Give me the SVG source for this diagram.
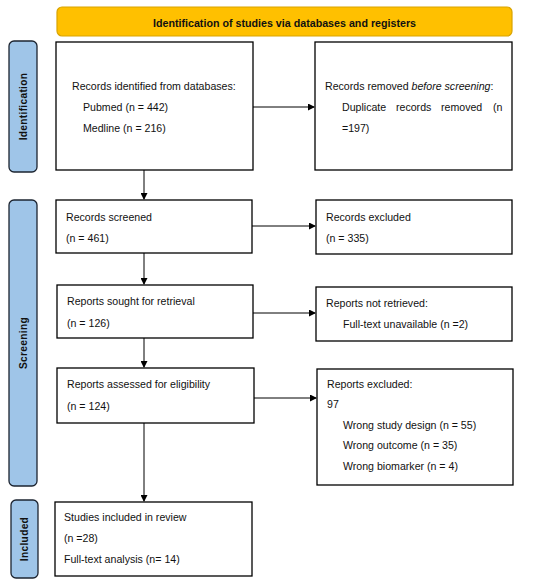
<svg xmlns="http://www.w3.org/2000/svg" width="550" height="585" viewBox="0 0 550 585">
<defs>
<marker id="ah" markerWidth="7" markerHeight="7" refX="6" refY="3.5" orient="auto" markerUnits="userSpaceOnUse">
<path d="M0,0 L7,3.5 L0,7 Z" fill="#000"/>
</marker>
<style>
.box{fill:#fff;stroke:#000;stroke-width:1.3}
.side{fill:#9fc5e8;stroke:#1c2430;stroke-width:1.3}
.hdr{fill:#ffc000;stroke:#d9a300;stroke-width:1.2}
.t{font-family:"Liberation Sans",Arial,sans-serif;font-size:10.6px;fill:#111}
.b{font-family:"Liberation Sans",Arial,sans-serif;font-size:10.2px;font-weight:bold;fill:#111}
.h{font-family:"Liberation Sans",Arial,sans-serif;font-size:10.7px;font-weight:bold;fill:#111}
.c{stroke:#000;stroke-width:1;fill:none;marker-end:url(#ah)}
</style>
</defs>
<rect width="550" height="585" fill="#fff"/>

<g id="header">
<rect class="hdr" x="57" y="7" width="455" height="29" rx="5"/>
<text class="h" x="284.5" y="27" text-anchor="middle">Identification of studies via databases and registers</text>
</g>

<g id="side-identification">
<rect class="side" x="9" y="41" width="28" height="131" rx="5"/>
<text class="b" transform="translate(27,106.5) rotate(-90)" text-anchor="middle" letter-spacing="0.3">Identification</text>
</g>
<g id="side-screening">
<rect class="side" x="9" y="200" width="28" height="286" rx="5"/>
<text class="b" transform="translate(27,343) rotate(-90)" text-anchor="middle" letter-spacing="0.3">Screening</text>
</g>
<g id="side-included">
<rect class="side" x="11" y="500" width="27" height="78" rx="5"/>
<text class="b" transform="translate(28,539) rotate(-90)" text-anchor="middle" letter-spacing="0.3">Included</text>
</g>

<g id="records-identified">
<rect class="box" x="56" y="42" width="197" height="128"/>
<text class="t" x="72" y="90">Records identified from databases:</text>
<text class="t" x="83" y="111">Pubmed (n = 442)</text>
<text class="t" x="83" y="132">Medline (n = 216)</text>
</g>

<g id="records-removed">
<rect class="box" x="315" y="42" width="197" height="128"/>
<text class="t" x="325" y="90">Records removed <tspan font-style="italic">before screening</tspan>:</text>
<text class="t" y="111"><tspan x="342">Duplicate</tspan><tspan x="396">records</tspan><tspan x="441">removed</tspan><tspan x="493">(n</tspan></text>
<text class="t" x="342" y="132">=197)</text>
</g>

<g id="records-screened">
<rect class="box" x="56" y="200" width="196" height="53"/>
<text class="t" x="66" y="221">Records screened</text>
<text class="t" x="66" y="242">(n = 461)</text>
</g>

<g id="records-excluded">
<rect class="box" x="316" y="200" width="196" height="54"/>
<text class="t" x="326" y="221">Records excluded</text>
<text class="t" x="326" y="242">(n = 335)</text>
</g>

<g id="reports-sought">
<rect class="box" x="57" y="285" width="196" height="53"/>
<text class="t" x="67" y="305">Reports sought for retrieval</text>
<text class="t" x="67" y="327">(n = 126)</text>
</g>

<g id="reports-not-retrieved">
<rect class="box" x="316" y="287" width="196" height="54"/>
<text class="t" x="326" y="307">Reports not retrieved:</text>
<text class="t" x="343" y="328">Full-text unavailable (n =2)</text>
</g>

<g id="reports-assessed">
<rect class="box" x="57" y="368" width="197" height="55"/>
<text class="t" x="67" y="388">Reports assessed for eligibility</text>
<text class="t" x="67" y="410">(n = 124)</text>
</g>

<g id="reports-excluded">
<rect class="box" x="317" y="369" width="196" height="116"/>
<text class="t" x="327" y="388">Reports excluded:</text>
<text class="t" x="327" y="408">97</text>
<text class="t" x="343" y="429">Wrong study design (n = 55)</text>
<text class="t" x="343" y="449">Wrong outcome (n = 35)</text>
<text class="t" x="343" y="470">Wrong biomarker (n = 4)</text>
</g>

<g id="studies-included">
<rect class="box" x="55" y="502" width="197" height="74"/>
<text class="t" x="64" y="521">Studies included in review</text>
<text class="t" x="64" y="542">(n =28)</text>
<text class="t" x="64" y="563">Full-text analysis (n= 14)</text>
</g>

<g id="connectors">
<line class="c" x1="253" y1="107" x2="314" y2="107"/>
<line class="c" x1="144" y1="170" x2="144" y2="199"/>
<line class="c" x1="252" y1="226" x2="315" y2="226"/>
<line class="c" x1="144" y1="253" x2="144" y2="284"/>
<line class="c" x1="253" y1="313" x2="315" y2="313"/>
<line class="c" x1="144" y1="338" x2="144" y2="367"/>
<line class="c" x1="254" y1="398" x2="316" y2="398"/>
<line class="c" x1="144" y1="423" x2="144" y2="501"/>
</g>
</svg>
